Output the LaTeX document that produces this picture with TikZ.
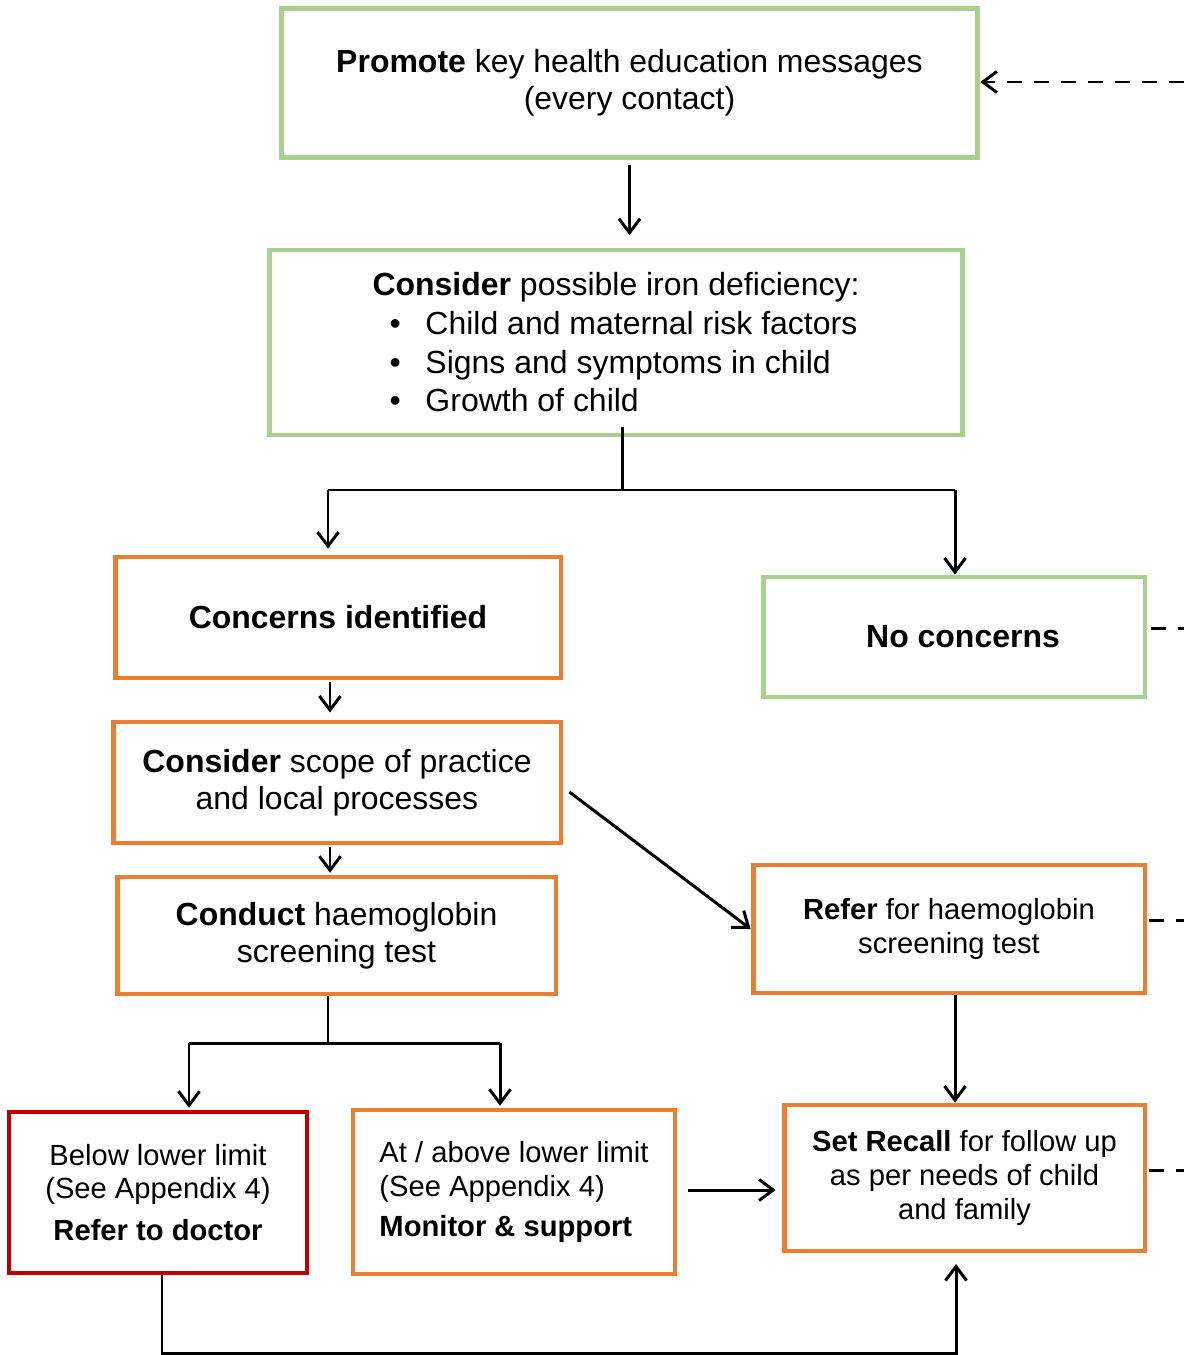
\documentclass[tikz,border=0pt]{standalone}
\usepackage{fontspec}
\setmainfont{Liberation Sans}
\usepackage{tikz}
\usetikzlibrary{calc,arrows.meta}

\definecolor{boxgreen}{RGB}{169,209,142}
\definecolor{boxorange}{RGB}{237,125,49}
\definecolor{boxred}{RGB}{192,0,0}
\newcommand{\bigtxt}{\fontsize{18.2}{21}\selectfont}
\newcommand{\smalltxt}{\fontsize{16.6}{19.3}\selectfont}

\begin{document}
\begin{tikzpicture}[x=0.02cm,y=-0.02cm,>={Straight Barb[length=8pt,width=12pt]},
	box/.style={draw,line width=2.8pt,inner sep=0pt,align=center,font=\bigtxt},
	conn/.style={line width=1.7pt},
	feedback/.style={line width=1.7pt,dash pattern=on 0.3cm off 0.24cm}]
	
	\useasboundingbox (0,0) rectangle (1184,1355);
	
	% top boxes
	\node[box,draw=boxgreen,minimum width=13.94cm,minimum height=2.98cm] (promote) at (629.5,83)
	{\textbf{Promote} key health education messages\\(every contact)};
	\node[box,draw=boxgreen,minimum width=13.88cm,minimum height=3.7cm,align=left,
	font=\fontsize{18.2}{22}\selectfont] (consider) at (616,342.5)
	{\textbf{Consider} possible iron deficiency:\\
		\hspace*{0.34cm}\makebox[0.72cm][l]{\textbullet}Child and maternal risk factors\\
		\hspace*{0.34cm}\makebox[0.72cm][l]{\textbullet}Signs and symptoms in child\\
		\hspace*{0.34cm}\makebox[0.72cm][l]{\textbullet}Growth of child};
	
	% left column
	\node[box,draw=boxorange,minimum width=8.92cm,minimum height=2.42cm] (concerns) at (338,617.5)
	{\textbf{Concerns identified}};
	\node[box,draw=boxorange,minimum width=8.96cm,minimum height=2.42cm] (scope) at (337,782.5)
	{\textbf{Consider} scope of practice\\and local processes};
	\node[box,draw=boxorange,minimum width=8.78cm,minimum height=2.34cm] (conduct) at (336.5,935.5)
	{\textbf{Conduct} haemoglobin\\screening test};
	\node[box,draw=boxred,minimum width=5.96cm,minimum height=3.22cm,font=\smalltxt] (below) at (158,1192.5)
	{Below lower limit\\(See Appendix 4)\\[0.16cm]\textbf{Refer to doctor}};
	\node[box,draw=boxorange,minimum width=6.44cm,minimum height=3.28cm,font=\smalltxt,
	align=left] (above) at (514,1192)
	{At / above lower limit\\(See Appendix 4)\\[0.14cm]\textbf{Monitor \& support}};
	
	% right column
	\node[box,draw=boxgreen,minimum width=7.64cm,minimum height=2.4cm] (nocon) at (954,637)
	{\hspace*{0.36cm}\textbf{No concerns}};
	\node[box,draw=boxorange,minimum width=7.84cm,minimum height=2.56cm,font=\smalltxt] (refer) at (949,929)
	{\textbf{Refer} for haemoglobin\\screening test};
	\node[box,draw=boxorange,minimum width=7.22cm,minimum height=2.92cm,font=\smalltxt] (recall) at (964.5,1178)
	{\textbf{Set Recall} for follow up\\as per needs of child\\and family};
	
	% connectors
	\draw[conn,->,shorten <=3pt,shorten >=7pt] (promote.south) -- (promote.south |- consider.north);
	
	\coordinate (split1) at (622,490);
	\coordinate (split1l) at (328,490);
	\coordinate (split1r) at (955,490);
	\draw[conn] ([yshift=0.2cm]consider.south -| split1) -- (split1);
	\draw[conn] (split1l) -- (split1r);
	\draw[conn,->,shorten >=3.4pt] (split1l) -- (split1l |- concerns.north);
	\draw[conn,->] (split1r) -- (split1r |- nocon.north);
	
	\draw[conn,->,shorten <=1pt,shorten >=4pt] ([xshift=-0.16cm]concerns.south) -- ([xshift=-0.16cm]concerns.south |- scope.north);
	\draw[conn,->,shorten <=1pt,shorten >=1pt] ([xshift=-0.14cm]scope.south) -- ([xshift=-0.14cm]scope.south |- conduct.north);
	\draw[conn,->] ([xshift=0.12cm,yshift=-0.19cm]scope.east) -- (refer.west);
	
	\coordinate (split2) at (328,1043);
	\coordinate (split2l) at (189,1043);
	\coordinate (split2r) at (500,1043);
	\draw[conn] (conduct.south -| split2) -- (split2);
	\draw[conn] (split2l) -- (split2r);
	\draw[conn,->,shorten >=1pt] (split2l) -- (split2l |- below.north);
	\draw[conn,->,shorten >=1pt] (split2r) -- (split2r |- above.north);
	
	\draw[conn,->,shorten <=6pt,shorten >=3.4pt] ([yshift=0.04cm]above.east) -- ([yshift=0.04cm]above.east -| recall.west);
	\draw[conn,->] ([xshift=0.12cm]refer.south) -- ([xshift=0.12cm]refer.south |- recall.north);
	
	\coordinate (loopb) at (162,1353);
	\draw[conn,->,shorten >=6pt] (below.south -| loopb) -- (loopb) -| ([xshift=-0.17cm]recall.south);
	
	% dashed links to the right edge
	\coordinate (edge0) at (1184,82);
	\coordinate (edge1) at (1184,628);
	\coordinate (edge2) at (1184,920);
	\coordinate (edge3) at (1184,1170);
	\draw[feedback,->] (edge0) -- (edge0 -| promote.east);
	\draw[feedback,shorten <=2pt] (edge1 -| nocon.east) -- (edge1);
	\draw[feedback,shorten <=1pt] (edge2 -| refer.east) -- (edge2);
	\draw[feedback,shorten <=1pt] (edge3 -| recall.east) -- (edge3);
	
\end{tikzpicture}
\end{document}
